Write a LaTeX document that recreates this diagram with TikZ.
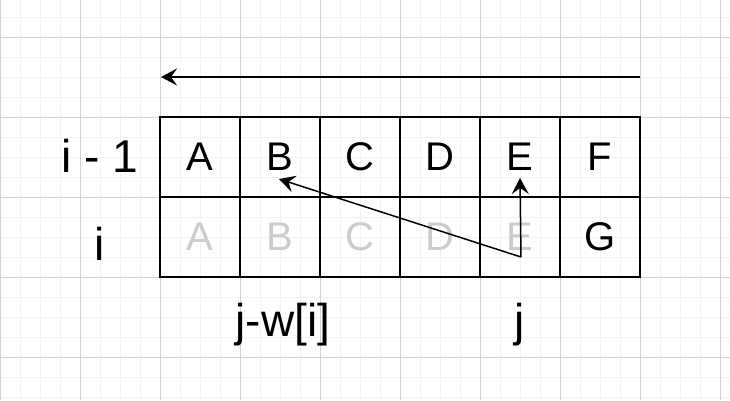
\documentclass[tikz,border=0pt]{standalone}
\usepackage{fontspec}
\setmainfont{Liberation Sans}
\usepackage{xcolor}
\usepackage{tikz}
\usetikzlibrary{arrows.meta, positioning}

\definecolor{gridminor}{RGB}{242,242,242}
\definecolor{gridmajor}{RGB}{210,210,210}
\definecolor{fadedtext}{RGB}{204,204,204}

\begin{document}
\begin{tikzpicture}[
    x=1pt, y=-1pt,
    cell/.style={draw, line width=2pt, minimum width=80pt, minimum height=80pt, inner sep=0pt, font=\fontsize{40}{48}\selectfont},
    faded/.style={cell, text=fadedtext},
    tag/.style={anchor=base, inner sep=0pt, font=\fontsize{46}{55}\selectfont},
    arrow/.style={-{Stealth[length=16pt, width=17pt, inset=6pt]}, line width=1.5pt},
]

% Page and background grid
\useasboundingbox (0,0) rectangle (730,400);
\fill[white] (0,0) rectangle (730,400);
\foreach \x in {0,20,...,720} \draw[gridminor, line width=1pt] (\x,0) -- (\x,400);
\foreach \y in {17,37,...,397} \draw[gridminor, line width=1pt] (0,\y) -- (730,\y);
\foreach \x in {0,80,...,720} \draw[gridmajor, line width=1pt] (\x,0) -- (\x,400);
\foreach \y in {37,117,...,357} \draw[gridmajor, line width=1pt] (0,\y) -- (730,\y);

% Row i - 1
\node[cell] (top1) at (200,157) {A};
\node[cell] (top2) at (280,157) {B};
\node[cell] (top3) at (360,157) {C};
\node[cell] (top4) at (440,157) {D};
\node[cell] (top5) at (520,157) {E};
\node[cell] (top6) at (600,157) {F};

% Row i
\node[faded] (bot1) at (200,237) {A};
\node[faded] (bot2) at (280,237) {B};
\node[faded] (bot3) at (360,237) {C};
\node[faded] (bot4) at (440,237) {D};
\node[faded] (bot5) at (520,237) {E};
\node[cell] (bot6) at (600,237) {G};

% Row and column labels
\node[tag] (prevrow) at (100,172.5) {i - 1};
\node[tag] (currow) at (100,260) {i};
\node[tag] (backcol) at (283,336) {j-w[i]};
\node[tag] (curcol) at (520,336) {j};

% Arrow points
\coordinate (scanfrom) at (640,77);
\coordinate (scanto) at (161,77);
\coordinate (jpoint) at (521,257);
\coordinate (btip) at (279,179);
\coordinate (etip) at (520,178);

% Arrows
\draw[arrow, line width=2pt] (scanfrom) -- (scanto);
\draw[arrow] (jpoint) -- (btip);
\draw[arrow] (jpoint) -- (etip);

\end{tikzpicture}
\end{document}
